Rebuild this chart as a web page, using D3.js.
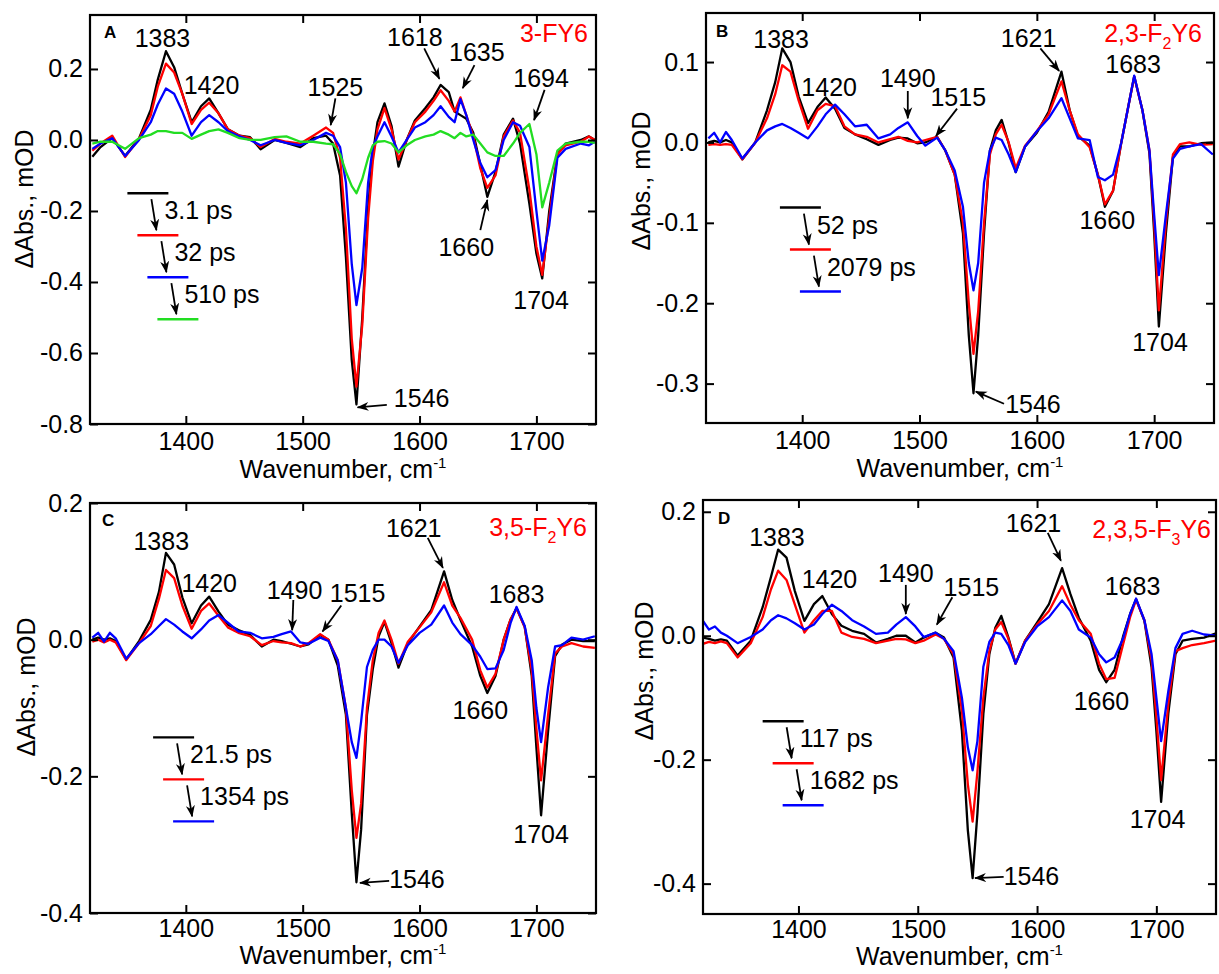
<!DOCTYPE html>
<html>
<head>
<meta charset="utf-8">
<script src="https://cdnjs.cloudflare.com/ajax/libs/d3/7.8.5/d3.min.js"></script>
<style>
  body { margin: 0; background: #fff; }
  svg { display: block; }
  text { font-family: "Liberation Sans", Arial, Helvetica, sans-serif; fill: #000; }
</style>
</head>
<body>
<svg id="chart" width="1219" height="974"></svg>
<script>

// ---- data ----

// wavenumber grid for panel A (cm-1)
var wnA = [1320,1327,1337,1348,1360, 1370,1376,1383,1390,1397,
           1405,1413,1420,1428,1436, 1446,1455,1464,1476,1486,
           1498,1509,1520,1526,1532, 1537,1542,1546,1551,1556,
           1560,1564,1570,1576,1582, 1589,1596,1605,1612,1618,
           1625,1630,1635,1640,1646, 1652,1658,1665,1672,1680,
           1686,1694,1700,1705,1711, 1718,1725,1738,1745,1750];

// panel A, 3-FY6
var aBlack = [-0.047,-0.02,0.005,-0.045,0.005, 0.085,0.17,0.25,0.205,0.13,
              0.05,0.095,0.117,0.075,0.03, 0.012,0.008,-0.026,0.0,-0.008,
              -0.02,0.005,0.012,-0.01,-0.1, -0.33,-0.62,-0.745,-0.5,-0.19,
              -0.04,0.05,0.103,0.04,-0.075, 0.0,0.055,0.09,0.12,0.155,
              0.135,0.08,0.07,0.06,0.02, -0.07,-0.16,-0.09,0.015,0.06,
              -0.01,-0.18,-0.32,-0.39,-0.2, -0.04,-0.01,0.0,0.01,0.0];
var aRed = [-0.03,-0.01,0.012,-0.048,0.003, 0.07,0.15,0.215,0.19,0.13,
            0.045,0.085,0.105,0.075,0.03, 0.012,0.005,-0.02,0.003,-0.005,
            -0.01,0.012,0.035,0.02,-0.05, -0.25,-0.56,-0.695,-0.52,-0.22,
            -0.06,0.03,0.09,0.03,-0.055, 0.0,0.05,0.08,0.11,0.14,
            0.11,0.08,0.12,0.07,0.01, -0.08,-0.135,-0.1,0.01,0.055,
            0.02,-0.14,-0.3,-0.38,-0.22, -0.04,-0.015,-0.005,0.01,0.0];
var aBlue = [-0.025,-0.01,0.005,-0.045,0.0, 0.05,0.1,0.145,0.13,0.08,
             0.012,0.05,0.07,0.05,0.025, 0.01,0.0,-0.015,0.0,-0.008,
             -0.015,0.0,0.02,0.012,-0.02, -0.12,-0.35,-0.465,-0.36,-0.12,
             -0.02,0.01,0.05,0.01,-0.035, 0.0,0.035,0.05,0.07,0.095,
             0.065,0.05,0.115,0.07,0.0, -0.065,-0.105,-0.085,0.0,0.05,
             0.04,-0.02,-0.2,-0.34,-0.24, -0.05,-0.025,-0.01,-0.015,-0.005];
var aGreen = [-0.01,-0.005,-0.005,-0.025,0.005, 0.015,0.025,0.025,0.02,0.02,
              0.003,0.015,0.025,0.03,0.02, 0.005,0.0,0.0,0.008,0.01,
              -0.005,-0.005,-0.01,-0.012,-0.04, -0.09,-0.13,-0.15,-0.11,-0.05,
              -0.015,-0.005,-0.003,-0.01,-0.035, -0.015,0.0,0.01,0.015,0.025,
              0.015,0.005,0.02,0.01,0.015, -0.01,-0.035,-0.045,-0.045,-0.01,
              0.02,0.045,-0.04,-0.19,-0.12, -0.03,-0.01,-0.005,-0.005,-0.008];

// wavenumber grid shared by panels B, C and D (cm-1)
var wnBCD = [1320,1325,1330,1335,1340, 1349,1360,1370,1377,1383,
             1390,1397,1405,1413,1420, 1428,1436,1445,1455,1465,
             1475,1482,1490,1498,1505, 1515,1522,1530,1537,1542,
             1546,1550,1555,1560,1565, 1570,1576,1582,1590,1600,
             1610,1621,1628,1635,1645, 1652,1658,1665,1672,1678,
             1683,1690,1696,1700,1704, 1710,1716,1722,1730,1740,
             1750];

// panel B, 2,3-F2Y6
var bBlack = [0.0,0.002,0.0,0.003,0.0, -0.021,0.0,0.04,0.075,0.117,
              0.1,0.057,0.024,0.044,0.056, 0.042,0.018,0.01,0.004,-0.003,
              0.003,0.006,0.005,-0.001,0.0, 0.007,-0.01,-0.04,-0.113,-0.24,
              -0.312,-0.24,-0.113,-0.01,0.015, 0.028,-0.001,-0.037,-0.005,0.012,
              0.038,0.088,0.04,0.008,-0.004, -0.04,-0.08,-0.06,0.0,0.045,
              0.082,0.04,-0.014,-0.113,-0.229, -0.113,-0.018,-0.005,-0.005,-0.001,
              0.0];
var bRed = [-0.003,-0.002,-0.003,-0.002,-0.003, -0.021,0.0,0.03,0.06,0.096,
            0.088,0.052,0.017,0.04,0.048, 0.045,0.02,0.01,0.007,0.0,
            0.004,0.007,0.002,0.0,0.003, 0.007,-0.01,-0.04,-0.1,-0.2,
            -0.263,-0.21,-0.1,-0.015,0.01, 0.022,0.0,-0.032,-0.004,0.014,
            0.035,0.076,0.04,0.01,-0.006, -0.04,-0.077,-0.06,0.0,0.045,
            0.082,0.04,-0.01,-0.1,-0.209, -0.1,-0.015,-0.002,0.0,-0.003,
            -0.002];
var bBlue = [0.005,0.012,0.0,0.013,0.003, -0.02,0.0,0.015,0.02,0.023,
             0.018,0.012,0.005,0.02,0.035, 0.047,0.035,0.02,0.022,0.005,
             0.01,0.018,0.025,0.008,-0.004, 0.006,-0.01,-0.035,-0.08,-0.15,
             -0.184,-0.15,-0.05,-0.01,0.006, 0.003,-0.015,-0.037,-0.005,0.014,
             0.03,0.055,0.03,0.005,0.003, -0.043,-0.047,-0.04,0.0,0.045,
             0.083,0.04,-0.01,-0.09,-0.165, -0.09,-0.02,-0.008,-0.005,-0.002,
             -0.015];

// panel C, 3,5-F2Y6
var cBlack = [0.0,0.003,0.0,0.002,-0.002, -0.029,-0.002,0.029,0.07,0.127,
              0.11,0.062,0.024,0.05,0.063, 0.041,0.022,0.014,0.007,-0.01,
              0.0,-0.002,-0.006,-0.01,-0.007, 0.007,0.0,-0.038,-0.11,-0.254,
              -0.355,-0.278,-0.11,-0.043,0.005, 0.026,-0.005,-0.041,-0.005,0.019,
              0.043,0.1,0.058,0.029,-0.01, -0.053,-0.078,-0.053,0.0,0.03,
              0.046,0.019,-0.053,-0.158,-0.257, -0.134,-0.024,-0.007,0.0,-0.002,
              -0.002];
var cRed = [-0.003,0.0,-0.004,0.0,-0.004, -0.03,-0.005,0.02,0.06,0.102,
            0.09,0.05,0.016,0.042,0.053, 0.035,0.018,0.01,0.005,-0.008,
            -0.002,-0.004,-0.005,-0.01,-0.005, 0.008,0.0,-0.03,-0.1,-0.22,
            -0.29,-0.24,-0.1,-0.03,0.01, 0.028,0.0,-0.035,-0.003,0.018,
            0.04,0.084,0.05,0.032,0.0, -0.045,-0.07,-0.05,0.0,0.03,
            0.046,0.018,-0.045,-0.13,-0.206, -0.11,-0.02,-0.01,-0.005,-0.01,
            -0.012];
var cBlue = [0.003,0.01,-0.003,0.01,0.002, -0.028,-0.005,0.008,0.02,0.03,
             0.022,0.012,0.002,0.015,0.028, 0.036,0.025,0.012,0.01,0.002,
             0.004,0.008,0.012,-0.004,-0.006, 0.003,-0.002,-0.03,-0.1,-0.15,
             -0.173,-0.12,-0.04,-0.015,0.0, 0.0,-0.01,-0.034,-0.008,0.01,
             0.022,0.05,0.025,0.008,-0.008, -0.025,-0.043,-0.042,-0.015,0.025,
             0.048,0.02,-0.03,-0.1,-0.15, -0.07,-0.01,-0.008,0.003,0.0,
             0.005];

// panel D, 2,3,5-F3Y6
var dBlack = [-0.003,-0.005,-0.008,-0.006,-0.008, -0.032,-0.008,0.046,0.095,0.139,
              0.126,0.072,0.024,0.051,0.064, 0.035,0.016,0.008,0.003,-0.011,
              -0.005,0.0,0.0,-0.011,-0.003, 0.005,-0.003,-0.035,-0.153,-0.314,
              -0.391,-0.287,-0.126,-0.03,0.013, 0.032,-0.003,-0.045,-0.008,0.021,
              0.051,0.109,0.067,0.029,-0.008, -0.055,-0.075,-0.055,-0.002,0.035,
              0.059,0.024,-0.051,-0.153,-0.268, -0.126,-0.03,-0.008,-0.005,-0.003,
              0.004];
var dRed = [-0.013,-0.01,-0.012,-0.009,-0.012, -0.035,-0.012,0.03,0.075,0.105,
            0.09,0.05,0.005,0.025,0.04, 0.04,0.005,-0.002,-0.005,-0.012,
            -0.008,-0.005,-0.006,-0.012,-0.008, 0.002,-0.005,-0.03,-0.12,-0.24,
            -0.3,-0.22,-0.1,-0.025,0.01, 0.022,-0.005,-0.045,-0.008,0.018,
            0.04,0.08,0.05,0.025,0.003, -0.045,-0.07,-0.068,-0.015,0.03,
            0.058,0.025,-0.04,-0.13,-0.233, -0.11,-0.025,-0.02,-0.015,-0.012,
            -0.008];
var dBlue = [0.024,0.01,0.015,0.005,0.0, -0.012,-0.002,0.01,0.025,0.033,
             0.028,0.02,0.01,0.018,0.035, 0.05,0.04,0.025,0.015,0.003,
             0.005,0.018,0.03,0.015,-0.002, 0.005,-0.005,-0.025,-0.1,-0.18,
             -0.217,-0.17,-0.05,-0.01,0.005, 0.003,-0.015,-0.045,-0.01,0.015,
             0.03,0.057,0.04,0.01,-0.003, -0.03,-0.043,-0.035,-0.005,0.035,
             0.06,0.025,-0.03,-0.1,-0.17, -0.09,-0.02,0.003,0.008,0.002,
             0.0];

// tick labels
var xTicks = [1400, 1500, 1600, 1700];
var yTicksA = [0.2, 0.0, -0.2, -0.4, -0.6, -0.8];
var yTicksB = [0.1, 0.0, -0.1, -0.2, -0.3];
var yTicksC = [0.2, 0.0, -0.2, -0.4];
var yTicksD = [0.2, 0.0, -0.2, -0.4];

// legend (lifetime) labels
var legendA = ['3.1 ps', '32 ps', '510 ps'];
var legendB = ['52 ps', '2079 ps'];
var legendC = ['21.5 ps', '1354 ps'];
var legendD = ['117 ps', '1682 ps'];

// peak labels: text, x, y, optional arrow [x1, y1, x2, y2] (data units)
var peaksA = [
  {t: '1383', x: 1380, y: 0.286},
  {t: '1420', x: 1422, y: 0.154},
  {t: '1525', x: 1528, y: 0.150, arrow: [1528, 0.117, 1524, 0.042]},
  {t: '1618', x: 1596, y: 0.291, arrow: [1604, 0.258, 1617, 0.172]},
  {t: '1635', x: 1649, y: 0.249, arrow: [1647, 0.211, 1637, 0.146]},
  {t: '1694', x: 1704, y: 0.174, arrow: [1707, 0.141, 1698, 0.056]},
  {t: '1660', x: 1640, y: -0.302, arrow: [1652, -0.254, 1658, -0.169]},
  {t: '1704', x: 1704, y: -0.451},
  {t: '1546', x: 1578, y: -0.728, start: true, arrow: [1572, -0.746, 1547, -0.753]}
];
var peaksB = [
  {t: '1383', x: 1382, y: 0.129},
  {t: '1420', x: 1423, y: 0.069},
  {t: '1490', x: 1490, y: 0.08, arrow: [1490, 0.064, 1490, 0.03]},
  {t: '1515', x: 1533, y: 0.057, arrow: [1532, 0.042, 1514, 0.008]},
  {t: '1621', x: 1593, y: 0.130, arrow: [1603, 0.117, 1619, 0.089]},
  {t: '1683', x: 1682, y: 0.098},
  {t: '1660', x: 1660, y: -0.096},
  {t: '1704', x: 1705, y: -0.248},
  {t: '1546', x: 1573, y: -0.325, start: true, arrow: [1572, -0.325, 1548, -0.31]}
];
var peaksC = [
  {t: '1383', x: 1379, y: 0.145},
  {t: '1420', x: 1420, y: 0.083},
  {t: '1490', x: 1493, y: 0.073, arrow: [1492, 0.058, 1491, 0.014]},
  {t: '1515', x: 1547, y: 0.069, arrow: [1533, 0.05, 1517, 0.012]},
  {t: '1621', x: 1595, y: 0.164, arrow: [1607, 0.149, 1620, 0.105]},
  {t: '1683', x: 1683, y: 0.067},
  {t: '1660', x: 1652, y: -0.103},
  {t: '1704', x: 1704, y: -0.285},
  {t: '1546', x: 1574, y: -0.35, start: true, arrow: [1574, -0.353, 1549, -0.356]}
];
var peaksD = [
  {t: '1383', x: 1382, y: 0.159},
  {t: '1420', x: 1426, y: 0.091},
  {t: '1490', x: 1490, y: 0.102, arrow: [1490, 0.082, 1490, 0.035]},
  {t: '1515', x: 1545, y: 0.079, arrow: [1529, 0.062, 1516, 0.018]},
  {t: '1621', x: 1597, y: 0.182, arrow: [1609, 0.166, 1620, 0.121]},
  {t: '1683', x: 1680, y: 0.08},
  {t: '1660', x: 1654, y: -0.105},
  {t: '1704', x: 1701, y: -0.295},
  {t: '1546', x: 1572, y: -0.388, start: true, arrow: [1572, -0.389, 1548, -0.391]}
];

// ---- layout ----

var colors = ['#000000', '#ff0000', '#0000ff', '#22dd22'];
var fontSize = 25;

var panels = [
  { letter: 'A', box: {left: 90, right: 596, top: 15, bottom: 424},
    xDomain: [1318, 1751], yDomain: [-0.8, 0.352], yTicks: yTicksA,
    wn: wnA, series: [aBlack, aRed, aBlue, aGreen], legend: legendA, legendAt: [1350, -0.15],
    peaks: peaksA, name: [['3-FY6', 0]], nameDy: 27, nameDx: 8, letterDx: 14, letterDy: 23,
    yTitle: [24, 199], xTitleDy: 54, tickPad: 8 },
  { letter: 'B', box: {left: 706, right: 1214, top: 13, bottom: 423},
    xDomain: [1318, 1751], yDomain: [-0.349, 0.161], yTicks: yTicksB,
    wn: wnBCD, series: [bBlack, bRed, bBlue], legend: legendB, legendAt: [1381, -0.081],
    peaks: peaksB, name: [['2,3-F', 0], ['2', 1], ['Y6', 0]], nameDy: 29, nameDx: 12, letterDx: 10, letterDy: 24,
    yTitle: [641, 181], xTitleDy: 54, tickPad: 8 },
  { letter: 'C', box: {left: 90, right: 596, top: 503, bottom: 913},
    xDomain: [1318, 1751], yDomain: [-0.4, 0.2], yTicks: yTicksC,
    wn: wnBCD, series: [cBlack, cRed, cBlue], legend: legendC, legendAt: [1372, -0.143],
    peaks: peaksC, name: [['3,5-F', 0], ['2', 1], ['Y6', 0]], nameDy: 33, nameDx: 9, letterDx: 12, letterDy: 23,
    yTitle: [26, 687], xTitleDy: 51, tickPad: 6 },
  { letter: 'D', box: {left: 703, right: 1216, top: 500, bottom: 914},
    xDomain: [1320, 1750], yDomain: [-0.449, 0.219], yTicks: yTicksD,
    wn: wnBCD, series: [dBlack, dRed, dBlue], legend: legendD, legendAt: [1370, -0.138],
    peaks: peaksD, name: [['2,3,5-F', 0], ['3', 1], ['Y6', 0]], nameDy: 38, nameDx: 5, letterDx: 15, letterDy: 24,
    yTitle: [644, 671], xTitleDy: 51, tickPad: 6 }
];

var svg = d3.select('#chart');
var defs = svg.append('defs');

// barbed arrow head used by every annotation arrow
defs.append('marker')
  .attr('id', 'head')
  .attr('viewBox', '0 -5 12 10')
  .attr('refX', 11)
  .attr('refY', 0)
  .attr('markerWidth', 12)
  .attr('markerHeight', 10)
  .attr('markerUnits', 'userSpaceOnUse')
  .attr('orient', 'auto')
  .append('path')
    .attr('d', 'M0,-4.5L12,0L0,4.5L3.5,0Z')
    .attr('fill', '#000');

var fmtY = function(d){ return d.toFixed(1); };
var fmtX = function(d){ return String(d); };

panels.forEach(function(p, pi){

  var b = p.box;
  var x = d3.scaleLinear().domain(p.xDomain).range([b.left, b.right]);
  var y = d3.scaleLinear().domain(p.yDomain).range([b.bottom, b.top]);
  var g = svg.append('g').attr('class', 'panel panel-' + p.letter);

  // clip for the spectra
  defs.append('clipPath').attr('id', 'clip' + pi)
    .append('rect')
      .attr('x', b.left).attr('y', b.top)
      .attr('width', b.right - b.left).attr('height', b.bottom - b.top);

  // spectra
  var line = d3.line()
    .x(function(d){ return x(d[0]); })
    .y(function(d){ return y(d[1]); });

  p.series.forEach(function(vals, si){
    var pts = p.wn.map(function(w, i){ return [w, vals[i]]; });
    g.append('path')
      .datum(pts)
      .attr('clip-path', 'url(#clip' + pi + ')')
      .attr('fill', 'none')
      .attr('stroke', colors[si])
      .attr('stroke-width', 2.3)
      .attr('stroke-linejoin', 'round')
      .attr('d', line);
  });

  // axes, ticks pointing inward on all four sides
  var bottom = g.append('g').attr('transform', 'translate(0,' + b.bottom + ')')
    .call(d3.axisBottom(x).tickValues(xTicks).tickSizeInner(-8).tickSizeOuter(0).tickPadding(p.tickPad).tickFormat(fmtX));
  var top = g.append('g').attr('transform', 'translate(0,' + b.top + ')')
    .call(d3.axisTop(x).tickValues(xTicks).tickSizeInner(-8).tickSizeOuter(0).tickFormat(''));
  var left = g.append('g').attr('transform', 'translate(' + b.left + ',0)')
    .call(d3.axisLeft(y).tickValues(p.yTicks).tickSizeInner(-8).tickSizeOuter(0).tickPadding(7).tickFormat(fmtY));
  var right = g.append('g').attr('transform', 'translate(' + b.right + ',0)')
    .call(d3.axisRight(y).tickValues(p.yTicks).tickSizeInner(-8).tickSizeOuter(0).tickFormat(''));

  [bottom, top, left, right].forEach(function(a){
    a.select('.domain').remove();
    a.selectAll('.tick line').attr('stroke', '#000').attr('stroke-width', 2);
    a.selectAll('.tick text')
      .attr('fill', '#000')
      .style('font-size', fontSize + 'px')
      .style('font-family', '"Liberation Sans", Arial, sans-serif');
  });

  // frame
  g.append('rect')
    .attr('x', b.left).attr('y', b.top)
    .attr('width', b.right - b.left).attr('height', b.bottom - b.top)
    .attr('fill', 'none')
    .attr('stroke', '#000')
    .attr('stroke-width', 2.2);

  // axis titles
  var xt = g.append('text')
    .attr('x', (b.left + b.right) / 2)
    .attr('y', b.bottom + p.xTitleDy)
    .attr('text-anchor', 'middle')
    .style('font-size', fontSize + 'px');
  xt.append('tspan').text('Wavenumber, cm');
  xt.append('tspan').attr('dy', -10).style('font-size', '15px').text('-1');

  g.append('text')
    .attr('transform', 'translate(' + p.yTitle[0] + ',' + p.yTitle[1] + ') rotate(-90)')
    .attr('text-anchor', 'middle')
    .attr('dominant-baseline', 'central')
    .style('font-size', fontSize + 'px')
    .text('\u0394Abs., mOD');

  // panel letter
  g.append('text')
    .attr('x', b.left + p.letterDx)
    .attr('y', b.top + p.letterDy)
    .style('font-size', '17px')
    .style('font-weight', 'bold')
    .text(p.letter);

  // compound name, red, with subscript
  var nm = g.append('text')
    .attr('x', b.right - p.nameDx)
    .attr('y', b.top + p.nameDy)
    .attr('text-anchor', 'end')
    .style('font-size', fontSize + 'px')
    .style('fill', '#ff0000');
  var shift = 0;
  p.name.forEach(function(part){
    var want = part[1] ? 7 : 0;
    nm.append('tspan')
      .attr('dy', want - shift)
      .style('font-size', part[1] ? '16px' : fontSize + 'px')
      .style('fill', '#ff0000')
      .text(part[0]);
    shift = want;
  });

  // legend: staggered short lines joined by arrows
  var lx = x(p.legendAt[0]), ly = y(p.legendAt[1]);
  var n = p.series.length;
  for (var i = 0; i < n; i++) {
    var ox = lx + 10 * i, oy = ly + 42 * i;
    g.append('line')
      .attr('x1', ox).attr('x2', ox + 41)
      .attr('y1', oy).attr('y2', oy)
      .attr('stroke', colors[i])
      .attr('stroke-width', 2.4);
    if (i < n - 1) {
      g.append('line')
        .attr('x1', ox + 24).attr('y1', oy + 6)
        .attr('x2', ox + 29).attr('y2', oy + 37)
        .attr('stroke', '#000')
        .attr('stroke-width', 1.8)
        .attr('marker-end', 'url(#head)');
      g.append('text')
        .attr('x', ox + 37)
        .attr('y', oy + 17)
        .attr('dominant-baseline', 'central')
        .style('font-size', fontSize + 'px')
        .text(p.legend[i]);
    }
  }

  // peak annotations
  p.peaks.forEach(function(k){
    if (k.arrow) {
      g.append('line')
        .attr('x1', x(k.arrow[0])).attr('y1', y(k.arrow[1]))
        .attr('x2', x(k.arrow[2])).attr('y2', y(k.arrow[3]))
        .attr('stroke', '#000')
        .attr('stroke-width', 1.8)
        .attr('marker-end', 'url(#head)');
    }
    g.append('text')
      .attr('x', x(k.x))
      .attr('y', y(k.y))
      .attr('text-anchor', k.start ? 'start' : 'middle')
      .attr('dominant-baseline', 'central')
      .style('font-size', fontSize + 'px')
      .text(k.t);
  });

});
</script>
</body>
</html>
